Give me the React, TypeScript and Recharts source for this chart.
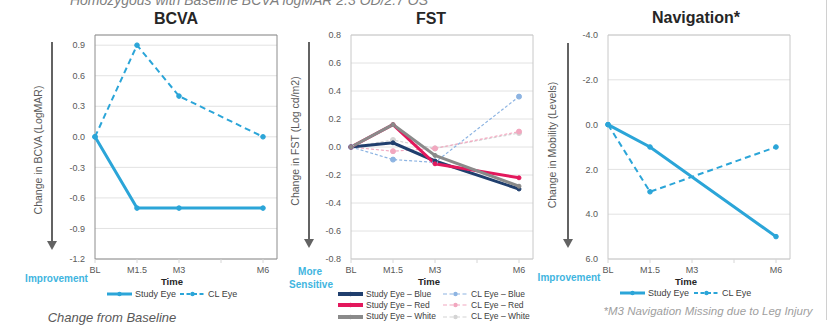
import React from "react";
import { LineChart, Line, XAxis, YAxis, CartesianGrid, ReferenceArea } from "recharts";

// visit times (months) and x tick labels
const VISITS = [0, 1.5, 3, 6];
const X_TICKS = [0, 1.5, 3, 4.5, 6];
const X_TICK_LABELS = ["BL", "M1.5", "M3", "", "M6"];

// BCVA (logMAR change)
const BCVA_STUDY = [0, -0.7, -0.7, -0.7];
const BCVA_CL = [0, 0.9, 0.4, 0];
const BCVA_TICKS = [-1.2, -0.9, -0.6, -0.3, 0, 0.3, 0.6, 0.9];

// FST (log cd/m2 change)
const FST_STUDY_BLUE = [0, 0.03, -0.1, -0.3];
const FST_STUDY_RED = [0, 0.16, -0.12, -0.22];
const FST_STUDY_WHITE = [0, 0.16, -0.06, -0.28];
const FST_CL_BLUE = [0, -0.09, -0.11, 0.36];
const FST_CL_RED = [0, -0.03, -0.01, 0.11];
const FST_CL_WHITE = [0, 0.05, -0.01, 0.1];
const FST_TICKS = [-0.8, -0.6, -0.4, -0.2, 0, 0.2, 0.4, 0.6, 0.8];

// Navigation (mobility levels), M3 missing
const NAV_STUDY = [0, 1, null, 5];
const NAV_CL = [0, 3, null, 1];
const NAV_TICKS = [-4, -2, 0, 2, 4, 6];

const CYAN = "#2ba5d8";
const CYAN_TEXT = "#3fb5e0";
const NAVY = "#203f6e";
const RED = "#e3185c";
const GRAY = "#8a8a8a";
const CL_BLUE = "#8db4e2";
const CL_RED = "#f2a7bf";
const CL_WHITE = "#d4d4d4";
const FONT = "'Liberation Sans', Arial, sans-serif";

const bcvaRows = VISITS.map((t, i) => ({ t, study: BCVA_STUDY[i], cl: BCVA_CL[i] }));
const fstRows = VISITS.map((t, i) => ({
  t,
  sb: FST_STUDY_BLUE[i],
  sr: FST_STUDY_RED[i],
  sw: FST_STUDY_WHITE[i],
  cb: FST_CL_BLUE[i],
  cr: FST_CL_RED[i],
  cw: FST_CL_WHITE[i],
}));
const navRows = VISITS.map((t, i) => ({ t, study: NAV_STUDY[i], cl: NAV_CL[i] }));

const dot = (color: string, r = 2.3) => ({ r, fill: color, stroke: color, strokeWidth: 1, strokeDasharray: "" });

function Panel({ plotLeft, rows, domain, ticks, reversed, border, children }: any) {
  return (
    <div style={{ position: "absolute", left: plotLeft - 35, top: 0 }}>
      <LineChart width={221} height={279} data={rows} margin={{ top: 35, right: 4, left: 0, bottom: 0 }}>
        <CartesianGrid vertical={false} stroke="#e2e2e2" />
        <ReferenceArea
          x1={0}
          x2={6.5}
          y1={domain[0]}
          y2={domain[1]}
          fill="none"
          fillOpacity={0}
          stroke={border}
          strokeWidth={1}
          ifOverflow="visible"
        />
        <XAxis
          type="number"
          dataKey="t"
          domain={[0, 6.5]}
          ticks={X_TICKS}
          interval={0}
          tickFormatter={(v: number) => X_TICK_LABELS[X_TICKS.indexOf(v)]}
          axisLine={false}
          tickLine={{ stroke: "#d6d6d6" }}
          tickSize={4}
          tickMargin={4}
          height={20}
          tick={{ fontSize: 9, fill: "#595959" }}
        />
        <YAxis
          type="number"
          domain={domain}
          ticks={ticks}
          interval={0}
          reversed={reversed}
          allowDataOverflow
          width={35}
          axisLine={false}
          tickLine={false}
          tickMargin={4}
          tick={{ fontSize: 9, fill: "#595959" }}
          tickFormatter={(v: number) => v.toFixed(1)}
        />
        {children}
      </LineChart>
    </div>
  );
}

function Text({ x, y, children, size = 10, color = "#595959", bold = false, italic = false, rotate = false }: any) {
  return (
    <div
      style={{
        position: "absolute",
        left: x,
        top: y,
        transform: `translate(-50%, -50%)${rotate ? " rotate(-90deg)" : ""}`,
        whiteSpace: "nowrap",
        fontSize: size,
        lineHeight: 1,
        color,
        fontWeight: bold ? "bold" : "normal",
        fontStyle: italic ? "italic" : "normal",
      }}
    >
      {children}
    </div>
  );
}

function Arrow({ x, y1, y2 }: any) {
  return (
    <svg style={{ position: "absolute", left: x - 6, top: y1 }} width={12} height={y2 - y1}>
      <line x1={6} y1={0} x2={6} y2={y2 - y1 - 7} stroke="#636363" strokeWidth={2} />
      <polygon points={`1,${y2 - y1 - 9} 11,${y2 - y1 - 9} 6,${y2 - y1}`} fill="#636363" />
    </svg>
  );
}

function LegendItem({ x, y, color, dashed, thick, label, size = 9 }: any) {
  return (
    <div style={{ position: "absolute", left: x, top: y - 5, height: 10, display: "flex", alignItems: "center" }}>
      <svg width={25} height={10} style={{ marginRight: 3 }}>
        <line
          x1={0}
          y1={5}
          x2={25}
          y2={5}
          stroke={color}
          strokeWidth={thick}
          strokeDasharray={dashed ? "4 2.5" : undefined}
        />
        <circle cx={12.5} cy={5} r={2.2} fill={color} />
      </svg>
      <span style={{ fontSize: size, color: "#404040", lineHeight: 1 }}>{label}</span>
    </div>
  );
}

export default function App() {
  return (
    <div
      style={{
        position: "absolute",
        left: 0,
        top: 0,
        width: 831,
        height: 325,
        background: "#fff",
        overflow: "hidden",
        fontFamily: FONT,
      }}
    >
      <Text x={249} y={0} size={14} italic color="#7f7f7f">
        Homozygous with Baseline BCVA logMAR 2.3 OD/2.7 OS
      </Text>
      <div style={{ position: "absolute", left: 826, top: 0, width: 1, height: 320, background: "#d0d0d0" }} />

      {/* BCVA */}
      <Text x={176} y={19} size={16} bold color="#262626">BCVA</Text>
      <Panel plotLeft={95} rows={bcvaRows} domain={[-1.2, 1.0]} ticks={BCVA_TICKS} border="#8c8c8c">
        <Line dataKey="cl" stroke={CYAN} strokeWidth={2} strokeDasharray="6 4" dot={dot(CYAN)} isAnimationActive={false} />
        <Line dataKey="study" stroke={CYAN} strokeWidth={3} dot={dot(CYAN)} isAnimationActive={false} />
      </Panel>
      <Arrow x={52} y1={42} y2={250} />
      <Text x={38} y={150} size={10.5} rotate>Change in BCVA (LogMAR)</Text>
      <Text x={56.5} y={279} size={10} bold color={CYAN_TEXT}>Improvement</Text>
      <Text x={172} y={282} size={9.5} bold color="#262626">Time</Text>
      <LegendItem x={107} y={294} color={CYAN} thick={3} label="Study Eye" />
      <LegendItem x={180} y={294} color={CYAN} thick={2} dashed label="CL Eye" />
      <Text x={112} y={317} size={13} italic color="#595959">Change from Baseline</Text>

      {/* FST */}
      <Text x={431} y={19} size={16} bold color="#262626">FST</Text>
      <Panel plotLeft={351} rows={fstRows} domain={[-0.8, 0.8]} ticks={FST_TICKS} border="#c8c8c8">
        <Line dataKey="cw" stroke={CL_WHITE} strokeWidth={1.2} strokeDasharray="3 2" dot={dot(CL_WHITE, 2.5)} isAnimationActive={false} />
        <Line dataKey="cr" stroke={CL_RED} strokeWidth={1.2} strokeDasharray="3 2" dot={dot(CL_RED, 2.5)} isAnimationActive={false} />
        <Line dataKey="cb" stroke={CL_BLUE} strokeWidth={1.2} strokeDasharray="3 2" dot={dot(CL_BLUE, 2.5)} isAnimationActive={false} />
        <Line dataKey="sb" stroke={NAVY} strokeWidth={3} dot={dot(NAVY, 2)} isAnimationActive={false} />
        <Line dataKey="sr" stroke={RED} strokeWidth={3} dot={dot(RED, 2)} isAnimationActive={false} />
        <Line dataKey="sw" stroke={GRAY} strokeWidth={3} dot={dot(GRAY, 2)} isAnimationActive={false} />
      </Panel>
      <Arrow x={309} y1={42} y2={248} />
      <Text x={295} y={141} size={10.5} rotate>Change in FST (Log cd/m2)</Text>
      <Text x={310} y={272} size={10} bold color={CYAN_TEXT}>More</Text>
      <Text x={311} y={285} size={10} bold color={CYAN_TEXT}>Sensitive</Text>
      <Text x={429} y={282} size={9.5} bold color="#262626">Time</Text>
      <LegendItem x={338} y={294} color={NAVY} thick={4} label="Study Eye – Blue" size={8.5} />
      <LegendItem x={338} y={305} color={RED} thick={4} label="Study Eye – Red" size={8.5} />
      <LegendItem x={338} y={316.5} color={GRAY} thick={4} label="Study Eye – White" size={8.5} />
      <LegendItem x={443} y={294} color={CL_BLUE} thick={1.2} dashed label="CL Eye – Blue" size={8.5} />
      <LegendItem x={443} y={305} color={CL_RED} thick={1.2} dashed label="CL Eye – Red" size={8.5} />
      <LegendItem x={443} y={316.5} color={CL_WHITE} thick={1.2} dashed label="CL Eye – White" size={8.5} />

      {/* Navigation */}
      <Text x={696} y={18} size={16} bold color="#262626">Navigation*</Text>
      <Panel plotLeft={608} rows={navRows} domain={[-4, 6]} ticks={NAV_TICKS} reversed border="#c8c8c8">
        <Line dataKey="cl" stroke={CYAN} strokeWidth={2} strokeDasharray="6 4" connectNulls dot={dot(CYAN)} isAnimationActive={false} />
        <Line dataKey="study" stroke={CYAN} strokeWidth={3} connectNulls dot={dot(CYAN)} isAnimationActive={false} />
      </Panel>
      <Arrow x={568} y1={43} y2={248} />
      <Text x={552} y={145} size={10.5} rotate>Change in Mobility (Levels)</Text>
      <Text x={569} y={278} size={10} bold color={CYAN_TEXT}>Improvement</Text>
      <Text x={686} y={282} size={9.5} bold color="#262626">Time</Text>
      <LegendItem x={620} y={293} color={CYAN} thick={3} label="Study Eye" />
      <LegendItem x={694} y={293} color={CYAN} thick={2} dashed label="CL Eye" />
      <Text x={708} y={312} size={11.5} italic color="#a0a0a0">*M3 Navigation Missing due to Leg Injury</Text>
    </div>
  );
}
